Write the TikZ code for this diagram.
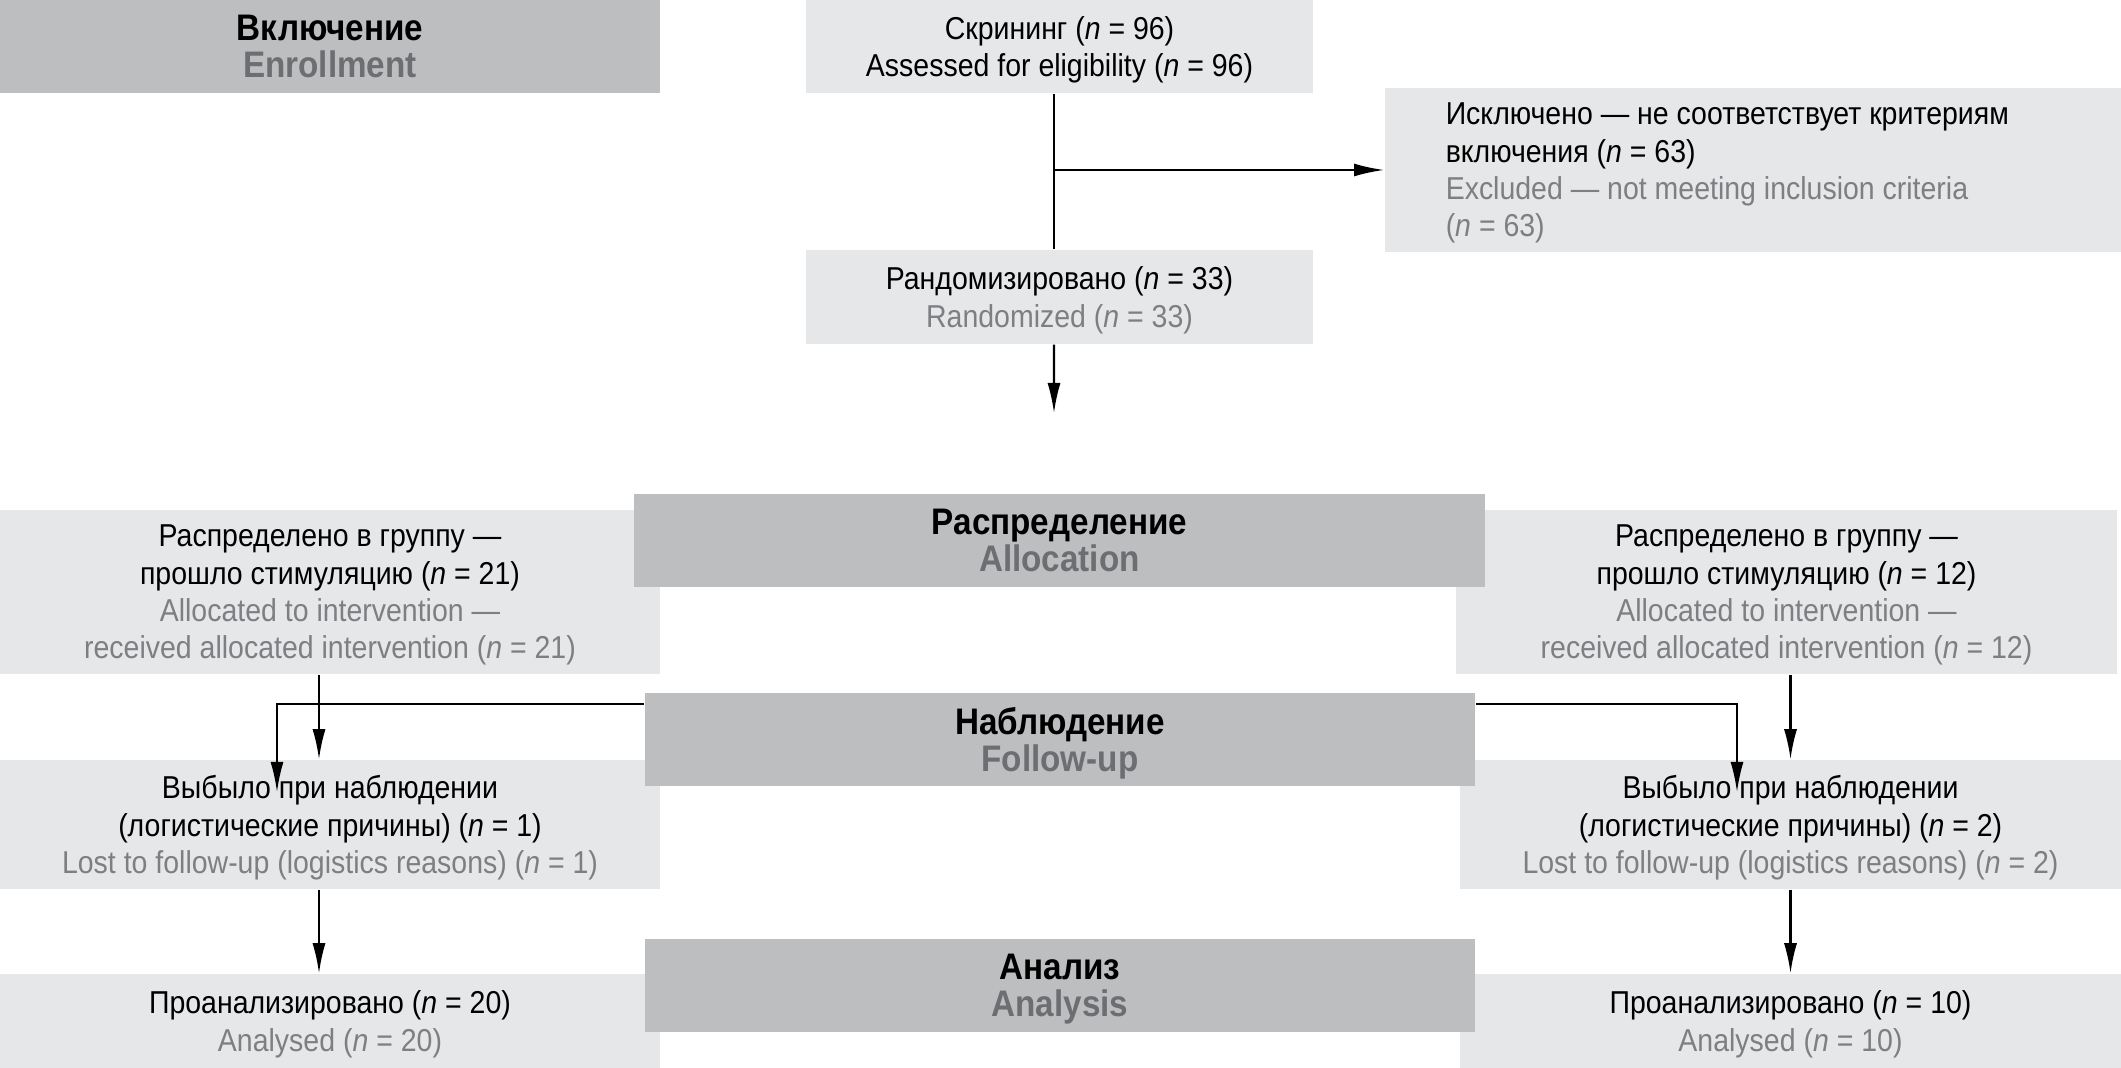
\documentclass[tikz,border=0pt]{standalone}
\usepackage{fontspec}
\setmainfont[FakeStretch=0.9]{Liberation Sans}
\usepackage{tikz}
\usetikzlibrary{arrows.meta,positioning}
\usepackage{xcolor}
\definecolor{stagegray}{HTML}{BCBEC0}
\definecolor{boxgray}{HTML}{E6E7E8}
\definecolor{entext}{HTML}{7E7F82}
\definecolor{stagetext}{HTML}{6D6E71}
\newcommand{\nn}{\textit{n}}

\begin{document}
\begin{tikzpicture} [
      x = 0.01cm, y = -0.01cm,
      inner sep = 0,
      every node/.style = { font = \fontsize{9}{10.6}\selectfont, align = center, text depth = 0pt },
      stage/.style = { fill = stagegray, minimum height = 0.93cm, font = \fontsize{10.5}{10.6}\selectfont\bfseries },
      box/.style = { fill = boxgray },
      arrow/.style = { line width = 0.6pt, -{Latex[length=0.3cm, width=0.13cm]} },
      link/.style = { line width = 0.6pt }
      ]
  \useasboundingbox [fill = white] (0,0) rectangle (2121,1068);

  % boxes
  \node [stage, minimum width = 6.6cm] (enroll) at (330,46.5) {Включение\\\textcolor{stagetext}{Enrollment}};
  \node [box, minimum width = 5.07cm, minimum height = 0.93cm] (screen) at (1059.5,46.5) {Скрининг (\nn{} = 96)\\Assessed for eligibility (\nn{} = 96)};
  \node [box, anchor = west, align = flush left, text width = 6.15cm, text depth = 31.8pt, inner xsep = 0.61cm, minimum height = 1.64cm] (excl) at (1384,170)
    {Исключено — не соответствует критериям\\включения (\nn{} = 63)\\\textcolor{entext}{Excluded — not meeting inclusion criteria}\\\textcolor{entext}{(\nn{} = 63)}};
  \node [box, minimum width = 5.07cm, minimum height = 0.94cm] (random) at (1059.5,297) {Рандомизировано (\nn{} = 33)\\\textcolor{entext}{Randomized (\nn{} = 33)}};
  \coordinate (allocin) at (1054,413);

  \node [box, minimum width = 6.6cm, minimum height = 1.64cm] (allocL) at (330,592)
    {Распределено в группу —\\прошло стимуляцию (\nn{} = 21)\\\textcolor{entext}{Allocated to intervention —}\\\textcolor{entext}{received allocated intervention (\nn{} = 21)}};
  \node [box, minimum width = 6.61cm, minimum height = 1.64cm] (allocR) at (1786.5,592)
    {Распределено в группу —\\прошло стимуляцию (\nn{} = 12)\\\textcolor{entext}{Allocated to intervention —}\\\textcolor{entext}{received allocated intervention (\nn{} = 12)}};
  \node [stage, minimum width = 8.51cm] (alloc) at (1059.5,540.5) {Распределение\\\textcolor{stagetext}{Allocation}};

  \node [box, minimum width = 6.6cm, minimum height = 1.29cm] (lostL) at (330,824.5)
    {Выбыло при наблюдении\\(логистические причины) (\nn{} = 1)\\\textcolor{entext}{Lost to follow-up (logistics reasons) (\nn{} = 1)}};
  \node [box, minimum width = 6.61cm, minimum height = 1.29cm] (lostR) at (1790.5,824.5)
    {Выбыло при наблюдении\\(логистические причины) (\nn{} = 2)\\\textcolor{entext}{Lost to follow-up (logistics reasons) (\nn{} = 2)}};

  \node [box, minimum width = 6.6cm, minimum height = 0.94cm] (anL) at (330,1021) {Проанализировано (\nn{} = 20)\\\textcolor{entext}{Analysed (\nn{} = 20)}};
  \node [box, minimum width = 6.61cm, minimum height = 0.94cm] (anR) at (1790.5,1021) {Проанализировано (\nn{} = 10)\\\textcolor{entext}{Analysed (\nn{} = 10)}};

  \node [stage, minimum width = 8.3cm] (follow) at (1060,739.5) {Наблюдение\\\textcolor{stagetext}{Follow-up}};
  \node [stage, minimum width = 8.3cm] (analysis) at (1060,985.5) {Анализ\\\textcolor{stagetext}{Analysis}};

  % connectors
  \draw [link] ([xshift=-0.055cm]screen.south) -- ([xshift=-0.055cm]random.north);
  \draw [arrow] ([xshift=-0.055cm]screen.south |- excl.west) -- (excl.west);
  \draw [arrow] ([xshift=-0.055cm]random.south) -- (allocin);

  \draw [arrow] ([xshift=-0.11cm]allocL.south) -- ([xshift=-0.11cm]lostL.north);
  \draw [arrow] (lostR.north |- allocR.south) -- (lostR.north);
  \draw [arrow] ([xshift=-0.11cm]lostL.south) -- ([xshift=-0.11cm]anL.north);
  \draw [arrow] (lostR.south) -- (anR.north);

  \coordinate (dropL) at (277,792);
  \coordinate (dropR) at (1737,792);
  \draw [arrow] ([yshift=-0.12cm]follow.north west) -| (dropL);
  \draw [arrow] ([yshift=-0.12cm]follow.north east) -| (dropR);
\end{tikzpicture}
\end{document}
